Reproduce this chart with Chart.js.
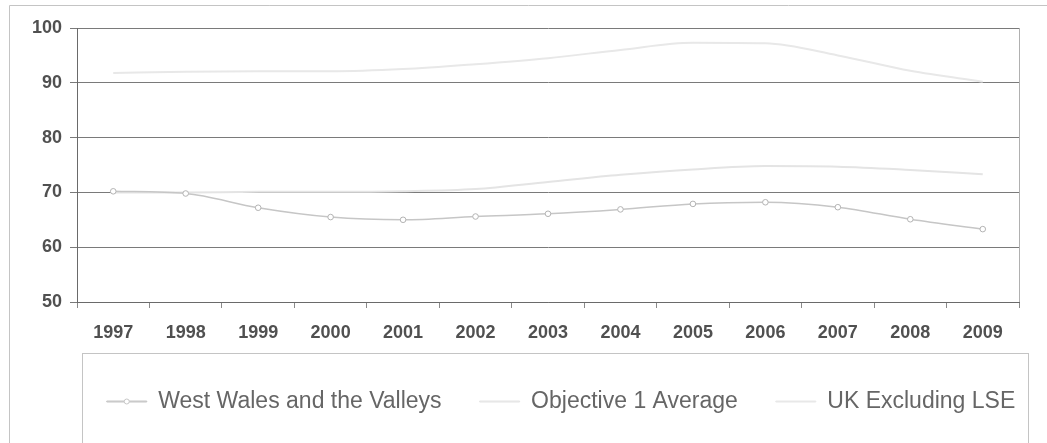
<!DOCTYPE html>
<html>
<head>
<meta charset="utf-8">
<script src="https://cdn.jsdelivr.net/npm/chart.js@4.4.1/dist/chart.umd.min.js"></script>
<style>
  html, body { margin: 0; padding: 0; background: #fff; }
  #wrap { position: relative; width: 1047px; height: 443px; }
</style>
</head>
<body>
<div id="wrap"><canvas id="chart"></canvas></div>
<script>
// Years on the category axis
const years = ['1997','1998','1999','2000','2001','2002','2003','2004','2005','2006','2007','2008','2009'];

// GVA per head index (UK = 100)
const westWalesValleys = [70.2, 69.8, 67.2, 65.5, 65.0, 65.6, 66.1, 66.9, 67.9, 68.2, 67.3, 65.1, 63.3];
const objective1Average = [70.0, 70.0, 70.1, 70.1, 70.2, 70.6, 71.9, 73.2, 74.2, 74.8, 74.7, 74.1, 73.3];
const ukExcludingLSE = [91.8, 92.0, 92.1, 92.1, 92.5, 93.4, 94.5, 96.0, 97.3, 97.2, 95.0, 92.2, 90.2];

// Value axis ticks
const yTicks = [50, 60, 70, 80, 90, 100];

const seriesNames = ['West Wales and the Valleys', 'Objective 1 Average', 'UK Excluding LSE'];

// Frame around the whole figure, box round the legend, right edge of the plot
const framePlugin = {
  id: 'frames',
  beforeDraw(chart) {
    const ctx = chart.ctx;
    ctx.save();
    ctx.fillStyle = '#ffffff';
    ctx.fillRect(0, 0, chart.width, chart.height);
    ctx.strokeStyle = '#c4c4c4';
    ctx.lineWidth = 1;
    ctx.beginPath();
    ctx.moveTo(9.5, chart.height + 5);
    ctx.lineTo(9.5, 5.5);
    ctx.lineTo(chart.width + 5, 5.5);
    ctx.stroke();
    ctx.restore();
  },
  afterLayout(chart) {
    const lg = chart.legend;
    if (lg) {
      lg.left = 62;
      lg.right = 1060;
      lg.width = lg.right - lg.left;
    }
  },
  afterDraw(chart) {
    const ctx = chart.ctx;
    const a = chart.chartArea;
    ctx.save();
    ctx.strokeStyle = '#b0b0b0';
    ctx.lineWidth = 1;
    ctx.beginPath();
    ctx.moveTo(Math.round(a.right) + 0.5, a.top);
    ctx.lineTo(Math.round(a.right) + 0.5, a.bottom);
    ctx.stroke();
    // legend box
    ctx.strokeStyle = '#c4c4c4';
    ctx.strokeRect(82.5, 353.5, 946, 120);
    // marker on the first legend line, placed the way the legend lays out its row
    const lg = chart.legend;
    if (lg && lg.lineWidths) {
      const lab = lg.options.labels;
      const pad = lab.padding;
      const x0 = (lg.left + pad + lg.right - lg.lineWidths[0]) / 2;
      const y0 = lg.top + pad + lab.font.size / 2;
      ctx.beginPath();
      ctx.arc(x0 + lab.boxWidth / 2, y0, 2.5, 0, Math.PI * 2);
      ctx.fillStyle = '#ffffff';
      ctx.fill();
      ctx.strokeStyle = '#c8c8c8';
      ctx.stroke();
    }
    ctx.restore();
  }
};

new Chart(document.getElementById('chart'), {
  type: 'line',
  data: {
    labels: years,
    datasets: [
      {
        label: seriesNames[0],
        data: westWalesValleys,
        borderColor: '#c6c6c6',
        backgroundColor: '#d4d4d4',
        borderWidth: 1.5,
        pointRadius: 2.8,
        pointBackgroundColor: '#ffffff',
        pointBorderColor: '#b4b4b4',
        pointBorderWidth: 1,
        cubicInterpolationMode: 'monotone',
        order: 1
      },
      {
        label: seriesNames[1],
        data: objective1Average,
        borderColor: '#e4e4e4',
        backgroundColor: '#f0f0f0',
        borderWidth: 2,
        pointRadius: 0,
        cubicInterpolationMode: 'monotone',
        order: 2
      },
      {
        label: seriesNames[2],
        data: ukExcludingLSE,
        borderColor: '#e8e8e8',
        backgroundColor: '#e8e8e8',
        borderWidth: 2,
        pointRadius: 0,
        cubicInterpolationMode: 'monotone',
        order: 3
      }
    ]
  },
  options: {
    responsive: true,
    maintainAspectRatio: false,
    animation: false,
    layout: { padding: { top: 28, right: 28, left: 0, bottom: 20 } },
    plugins: {
      tooltip: { enabled: false },
      legend: {
        display: true,
        position: 'bottom',
        labels: {
          boxWidth: 40,
          boxHeight: 1,
          padding: 38,
          color: '#666666',
          font: { family: 'Liberation Sans, Arial, sans-serif', size: 23 },
          generateLabels(chart) {
            const items = Chart.defaults.plugins.legend.labels.generateLabels(chart);
            items.forEach(it => { it.lineWidth = 1; });
            return items;
          }
        }
      }
    },
    scales: {
      x: {
        type: 'category',
        offset: true,
        afterFit(scale) { scale.height = 50; },
        border: { display: true, color: '#6a6a6a', width: 1 },
        grid: {
          offset: true,
          drawOnChartArea: false,
          drawTicks: true,
          tickLength: 6,
          color: '#8a8a8a'
        },
        ticks: {
          color: '#505050',
          padding: 14,
          maxRotation: 0,
          autoSkip: false,
          font: { family: 'Liberation Sans, Arial, sans-serif', size: 18, weight: 'bold' }
        }
      },
      y: {
        min: 50,
        max: 100,
        afterFit(scale) { scale.width = 77; },
        afterBuildTicks(scale) { scale.ticks = yTicks.map(v => ({ value: v })); },
        border: { display: true, color: '#6a6a6a', width: 1 },
        grid: {
          color: '#7a7a7a',
          lineWidth: 1,
          drawTicks: true,
          tickLength: 7
        },
        ticks: {
          color: '#505050',
          padding: 8,
          font: { family: 'Liberation Sans, Arial, sans-serif', size: 18, weight: 'bold' }
        }
      }
    }
  },
  plugins: [framePlugin]
});
</script>
</body>
</html>
